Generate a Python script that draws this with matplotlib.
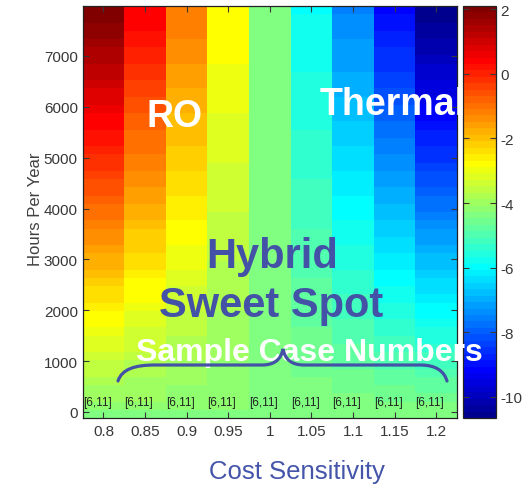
import numpy as np
import matplotlib
matplotlib.use('Agg')
import matplotlib.pyplot as plt
from matplotlib.path import Path
from matplotlib.patches import PathPatch
from matplotlib.transforms import Affine2D
from matplotlib.colors import ListedColormap
from matplotlib import font_manager

plt.rcParams['axes.unicode_minus'] = False

# ---------------- data ----------------
cost_sensitivity = [0.8, 0.85, 0.9, 0.95, 1.0, 1.05, 1.1, 1.15, 1.2]
x_tick_labels = ['0.8', '0.85', '0.9', '0.95', '1', '1.05', '1.1', '1.15', '1.2']
hours_per_year = np.arange(50) * 162 - 37          # row centres (hours)
y_ticks = [0, 1000, 2000, 3000, 4000, 5000, 6000, 7000]
cbar_ticks = [2, 0, -2, -4, -6, -8, -10]
case_labels = ['[6,11]'] * 9

# rows from bottom (low hours) to top (high hours); columns = cost sensitivity
values = [
    [-4.30, -4.30, -4.30, -4.30, -4.3, -4.30, -4.30, -4.30, -4.30],
    [-4.15, -4.19, -4.22, -4.26, -4.3, -4.34, -4.38, -4.41, -4.45],
    [-4.00, -4.07, -4.15, -4.22, -4.3, -4.38, -4.45, -4.53, -4.60],
    [-3.90, -4.00, -4.10, -4.20, -4.3, -4.40, -4.50, -4.60, -4.70],
    [-3.75, -3.89, -4.02, -4.16, -4.3, -4.44, -4.58, -4.71, -4.85],
    [-3.60, -3.77, -3.95, -4.12, -4.3, -4.48, -4.65, -4.83, -5.00],
    [-3.50, -3.70, -3.90, -4.10, -4.3, -4.50, -4.70, -4.90, -5.10],
    [-3.35, -3.59, -3.82, -4.06, -4.3, -4.54, -4.78, -5.01, -5.25],
    [-3.20, -3.47, -3.75, -4.02, -4.3, -4.58, -4.85, -5.13, -5.40],
    [-3.10, -3.40, -3.70, -4.00, -4.3, -4.60, -4.90, -5.20, -5.50],
    [-2.95, -3.29, -3.62, -3.96, -4.3, -4.64, -4.98, -5.31, -5.65],
    [-2.80, -3.17, -3.55, -3.92, -4.3, -4.68, -5.05, -5.43, -5.80],
    [-2.70, -3.10, -3.50, -3.90, -4.3, -4.70, -5.10, -5.50, -5.90],
    [-2.55, -2.99, -3.42, -3.86, -4.3, -4.74, -5.18, -5.61, -6.05],
    [-2.40, -2.87, -3.35, -3.82, -4.3, -4.78, -5.25, -5.73, -6.20],
    [-2.30, -2.80, -3.30, -3.80, -4.3, -4.80, -5.30, -5.80, -6.30],
    [-2.15, -2.69, -3.22, -3.76, -4.3, -4.84, -5.38, -5.91, -6.45],
    [-2.00, -2.57, -3.15, -3.72, -4.3, -4.88, -5.45, -6.03, -6.60],
    [-1.85, -2.46, -3.07, -3.69, -4.3, -4.91, -5.53, -6.14, -6.75],
    [-1.75, -2.39, -3.02, -3.66, -4.3, -4.94, -5.58, -6.21, -6.85],
    [-1.60, -2.27, -2.95, -3.62, -4.3, -4.98, -5.65, -6.33, -7.00],
    [-1.45, -2.16, -2.87, -3.59, -4.3, -5.01, -5.73, -6.44, -7.15],
    [-1.35, -2.09, -2.82, -3.56, -4.3, -5.04, -5.78, -6.51, -7.25],
    [-1.20, -1.97, -2.75, -3.52, -4.3, -5.08, -5.85, -6.63, -7.40],
    [-1.05, -1.86, -2.67, -3.49, -4.3, -5.11, -5.93, -6.74, -7.55],
    [-0.90, -1.75, -2.60, -3.45, -4.3, -5.15, -6.00, -6.85, -7.70],
    [-0.80, -1.67, -2.55, -3.42, -4.3, -5.18, -6.05, -6.93, -7.80],
    [-0.65, -1.56, -2.47, -3.39, -4.3, -5.21, -6.13, -7.04, -7.95],
    [-0.50, -1.45, -2.40, -3.35, -4.3, -5.25, -6.20, -7.15, -8.10],
    [-0.40, -1.37, -2.35, -3.32, -4.3, -5.28, -6.25, -7.23, -8.20],
    [-0.25, -1.26, -2.27, -3.29, -4.3, -5.31, -6.33, -7.34, -8.35],
    [-0.10, -1.15, -2.20, -3.25, -4.3, -5.35, -6.40, -7.45, -8.50],
    [ 0.00, -1.07, -2.15, -3.22, -4.3, -5.38, -6.45, -7.53, -8.60],
    [ 0.15, -0.96, -2.07, -3.19, -4.3, -5.41, -6.53, -7.64, -8.75],
    [ 0.25, -0.89, -2.02, -3.16, -4.3, -5.44, -6.58, -7.71, -8.85],
    [ 0.40, -0.77, -1.95, -3.12, -4.3, -5.48, -6.65, -7.83, -9.00],
    [ 0.50, -0.70, -1.90, -3.10, -4.3, -5.50, -6.70, -7.90, -9.10],
    [ 0.65, -0.59, -1.82, -3.06, -4.3, -5.54, -6.78, -8.01, -9.25],
    [ 0.75, -0.51, -1.77, -3.04, -4.3, -5.56, -6.83, -8.09, -9.35],
    [ 0.90, -0.40, -1.70, -3.00, -4.3, -5.60, -6.90, -8.20, -9.50],
    [ 1.00, -0.32, -1.65, -2.97, -4.3, -5.63, -6.95, -8.28, -9.60],
    [ 1.15, -0.21, -1.57, -2.94, -4.3, -5.66, -7.03, -8.39, -9.75],
    [ 1.25, -0.14, -1.52, -2.91, -4.3, -5.69, -7.08, -8.46, -9.85],
    [ 1.40, -0.02, -1.45, -2.87, -4.3, -5.73, -7.15, -8.58, -10.00],
    [ 1.50,  0.05, -1.40, -2.85, -4.3, -5.75, -7.20, -8.65, -10.10],
    [ 1.60,  0.13, -1.35, -2.82, -4.3, -5.78, -7.25, -8.73, -10.20],
    [ 1.75,  0.24, -1.27, -2.79, -4.3, -5.81, -7.33, -8.84, -10.35],
    [ 1.85,  0.31, -1.22, -2.76, -4.3, -5.84, -7.38, -8.91, -10.45],
    [ 1.95,  0.39, -1.17, -2.74, -4.3, -5.86, -7.43, -8.99, -10.55],
    [ 2.05,  0.46, -1.12, -2.71, -4.3, -5.89, -7.48, -9.06, -10.65],
]

# ---------------- MATLAB-style jet(64) colormap ----------------
def matlab_jet(n=64):
    m = int(np.ceil(n / 4))
    u = np.concatenate([np.arange(1, m + 1) / m, np.ones(m - 1), np.arange(m, 0, -1) / m])
    g = int(np.ceil(m / 2)) - (1 if n % 4 == 1 else 0) + np.arange(1, len(u) + 1)
    r = g + m
    b = g - m
    J = np.zeros((n, 3))
    rm = r <= n
    J[r[rm] - 1, 0] = u[rm]
    J[g - 1, 1] = u
    bm = b > 0
    J[b[bm] - 1, 2] = u[len(u) - bm.sum():]
    return ListedColormap(J)

# ---------------- style ----------------
W, H = 525, 485
names = {f.name for f in font_manager.fontManager.ttflist}
narrow = 'Liberation Sans Narrow' if 'Liberation Sans Narrow' in names else 'Liberation Sans'
bold_font = 'Liberation Sans'
blue = '#4351A6'
tick_col = '#383838'

fig = plt.figure(figsize=(W / 100, H / 100), dpi=100)

def fx(px):
    return px / W

def fy(py):
    return 1 - py / H

ax = fig.add_axes([fx(82.7), fy(419), (457 - 82.7) / W, (419 - 7) / H])
cmap = matlab_jet(64)
mesh = ax.pcolormesh(cost_sensitivity, hours_per_year, np.array(values),
                     shading='nearest', cmap=cmap, vmin=-10.65, vmax=2.1)
ax.set_xlim(0.775, 1.225)
ax.set_ylim(-118, 7983)
ax.set_xticks(cost_sensitivity)
ax.set_xticklabels(x_tick_labels)
ax.set_yticks(y_ticks)
ax.tick_params(direction='in', length=4, width=0.8, top=True, right=True,
               colors=tick_col, labelsize=11, pad=4)
ax.tick_params(axis='y', pad=3.5)
for lab in ax.get_xticklabels() + ax.get_yticklabels():
    lab.set_fontfamily(narrow)
for sp in ax.spines.values():
    sp.set_color('#222222')
    sp.set_linewidth(0.9)

for x, lab in zip(cost_sensitivity, case_labels):
    ax.text(x - 0.025, 200, lab, ha='left', va='center', fontsize=8.5,
            family=narrow, color='#202020')

# colorbar
cax = fig.add_axes([fx(463), fy(419), 33 / W, (419 - 7) / H])
cb = fig.colorbar(mesh, cax=cax, ticks=cbar_ticks)
cb.outline.set_edgecolor('#222222')
cb.outline.set_linewidth(0.9)
cax.tick_params(direction='in', length=4, width=0.8, left=True, right=True,
                colors=tick_col, labelsize=11, pad=3)
cax.set_yticklabels([str(t) for t in cbar_ticks])
for lab in cax.get_yticklabels():
    lab.set_fontfamily(narrow)

# axis labels
fig.text(fx(36), fy(209), 'Hours Per Year', rotation=90, ha='center', va='center',
         fontsize=12, family='Liberation Sans', color='#404040')
fig.text(fx(297), fy(479), 'Cost Sensitivity', ha='center', va='baseline',
         fontsize=18.5, family='Liberation Sans', color='#4455AA')

# annotations
fig.text(fx(175), fy(127), 'RO', ha='center', va='baseline', fontsize=27,
         fontweight='bold', family=bold_font, color='white')
fig.text(fx(392.5), fy(115), 'Thermal', ha='center', va='baseline', fontsize=27,
         fontweight='bold', family=bold_font, color='white')
fig.text(fx(272), fy(268), 'Hybrid', ha='center', va='baseline', fontsize=30,
         fontweight='bold', family=bold_font, color=blue)
fig.text(fx(271.5), fy(317), 'Sweet Spot', ha='center', va='baseline', fontsize=30,
         fontweight='bold', family=bold_font, color=blue)
fig.text(fx(309.5), fy(361), 'Sample Case Numbers', ha='center', va='baseline',
         fontsize=23, fontweight='bold', family=bold_font, color='white')

# curly brace (pixel coordinates, top-left origin)
verts = [(118, 382), (122, 370), (135, 366), (155, 366),
         (262, 366),
         (275, 366), (281, 360), (283, 350),
         (285, 360), (291, 366), (304, 366),
         (420, 366),
         (436, 366), (444, 372), (447, 382)]
codes = [Path.MOVETO, Path.CURVE4, Path.CURVE4, Path.CURVE4,
         Path.LINETO,
         Path.CURVE4, Path.CURVE4, Path.CURVE4,
         Path.CURVE4, Path.CURVE4, Path.CURVE4,
         Path.LINETO,
         Path.CURVE4, Path.CURVE4, Path.CURVE4]
pix = Affine2D().scale(1 / W, -1 / H).translate(0, 1) + fig.transFigure
brace = PathPatch(Path(verts, codes), facecolor='none', edgecolor=blue,
                  linewidth=2.3, transform=pix, capstyle='round', zorder=5)
fig.add_artist(brace)

fig.savefig('out.png', dpi=100)
